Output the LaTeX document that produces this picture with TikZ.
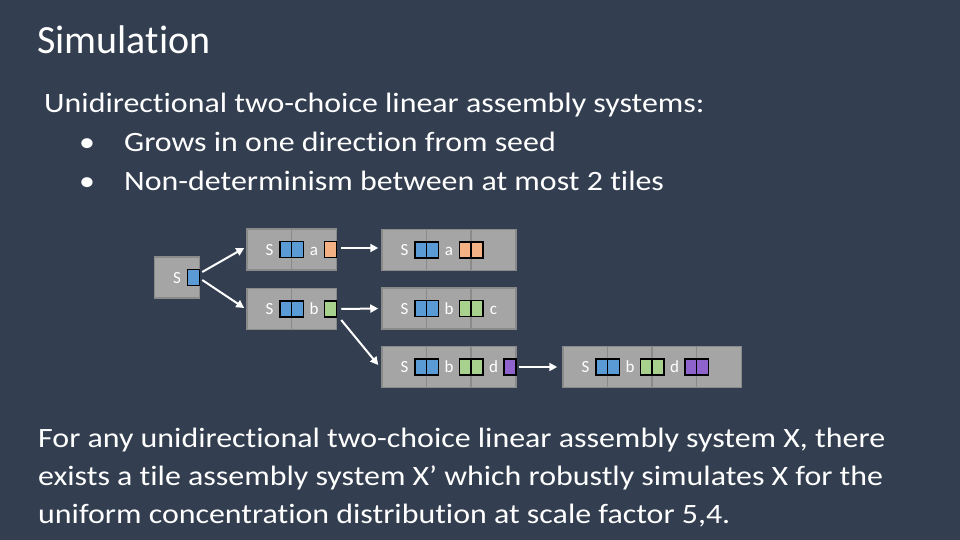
\documentclass[tikz,border=0pt]{standalone}
\usepackage{fontspec}
\setmainfont{Carlito}[Ligatures=NoCommon]
\newfontfamily\widefont{Carlito}[Ligatures=NoCommon, FakeStretch=1.14]
\usetikzlibrary{arrows.meta,calc}

\definecolor{slide}{HTML}{333F50}
\definecolor{tilegray}{HTML}{A5A5A5}
\definecolor{tileedge}{HTML}{8A8A8A}
\definecolor{gblue}{HTML}{5B9BD5}
\definecolor{gorange}{HTML}{F4B183}
\definecolor{ggreen}{HTML}{A9D18E}
\definecolor{gpurple}{HTML}{8E63CC}

\tikzset{
  tile/.style={draw=tileedge, line width=1.5pt, fill=tilegray, minimum width=45pt,
    minimum height=41pt, inner sep=0pt, text=white, text height=11pt, text depth=0pt,
    font=\fontsize{17}{17}\selectfont},
  glue/.style={draw=black, line width=1.5pt, fill=#1, minimum width=12pt,
    minimum height=16pt, inner sep=0pt},
  flow/.style={draw=white, line width=2pt, -{Triangle[length=8pt,width=8pt]}},
  slidetext/.style={anchor=base west, inner sep=0pt, text=white,
    font=\widefont\fontsize{28}{28}\selectfont},
}

\begin{document}
\begin{tikzpicture}[x=1pt,y=-1pt]
  \fill[slide] (0,0) rectangle (960,540);
  \useasboundingbox (0,0) rectangle (960,540);

  % text
  \node[slidetext, font=\fontsize{40}{40}\selectfont] (title) at (37,54) {Simulation};
  \node[slidetext] (intro) at (44,112.5) {Unidirectional two-choice linear assembly systems:};
  \node[slidetext] (dotone) at (79,151.5) {•};
  \node[slidetext] (itemone) at (124,151.5) {Grows in one direction from seed};
  \node[slidetext] (dottwo) at (79,190.5) {•};
  \node[slidetext] (itemtwo) at (124,190.5) {Non-determinism between at most 2 tiles};
  \node[slidetext] (claimone) at (38,447) {For any unidirectional two-choice linear assembly system X, there};
  \node[slidetext] (claimtwo) at (38,485) {exists a tile assembly system X’ which robustly simulates X for the};
  \node[slidetext] (claimthree) at (38,523) {uniform concentration distribution at scale factor 5,4.};

  % tiles
  \foreach \nm/\x/\y/\lab in {
      seed/177/277.5/S,
      as/269.5/249.5/S, aa/314/249.5/a,
      bs/269.5/309/S, bb/314/309/b,
      cas/404.5/250/S, caa/449/250/a, cax/493.5/250/,
      cbs/404.5/308.5/S, cbb/449/308.5/b, cbc/493.5/308.5/c,
      cds/404.5/367/S, cdb/449/367/b, cdd/493.5/367/d,
      rs/585.5/367/S, rb/630/367/b, rd/674.5/367/d, rx/719/367/} {
    \node[tile] (\nm) at (\x,\y) {\lab};
  }

  % glues
  \foreach \nm/\c in {seed/gblue, as/gblue, aa/gorange, bs/gblue, bb/ggreen,
      cas/gblue, caa/gorange, cbs/gblue, cbb/ggreen,
      cds/gblue, cdb/ggreen, cdd/gpurple, rs/gblue, rb/ggreen, rd/gpurple} {
    \node[glue=\c, anchor=east] at (\nm.east) {};
  }
  \foreach \nm/\c in {aa/gblue, bb/gblue, caa/gblue, cax/gorange, cbb/gblue, cbc/ggreen,
      cdb/gblue, cdd/ggreen, rb/gblue, rd/ggreen, rx/gpurple} {
    \node[glue=\c, anchor=west] at (\nm.west) {};
  }

  % growth steps
  \draw[flow] ($(seed.east)+(2,-5.5)$) -- ($(as.west)+(-2,-1.5)$);
  \draw[flow] ($(seed.east)+(2,2.5)$) -- ($(bs.west)+(-2,-1)$);
  \draw[flow] ($(aa.east)+(4,-1.5)$) -- ($(cas.west)+(-3,-2)$);
  \draw[flow] ($(bb.east)+(4,0)$) -- ($(cbs.west)+(-3,0)$);
  \draw[flow] ($(bb.east)+(4,11)$) -- ($(cds.west)+(-3,-2)$);
  \draw[flow] ($(cdd.east)+(2,0)$) -- ($(rs.west)+(-5,0)$);
\end{tikzpicture}
\end{document}
